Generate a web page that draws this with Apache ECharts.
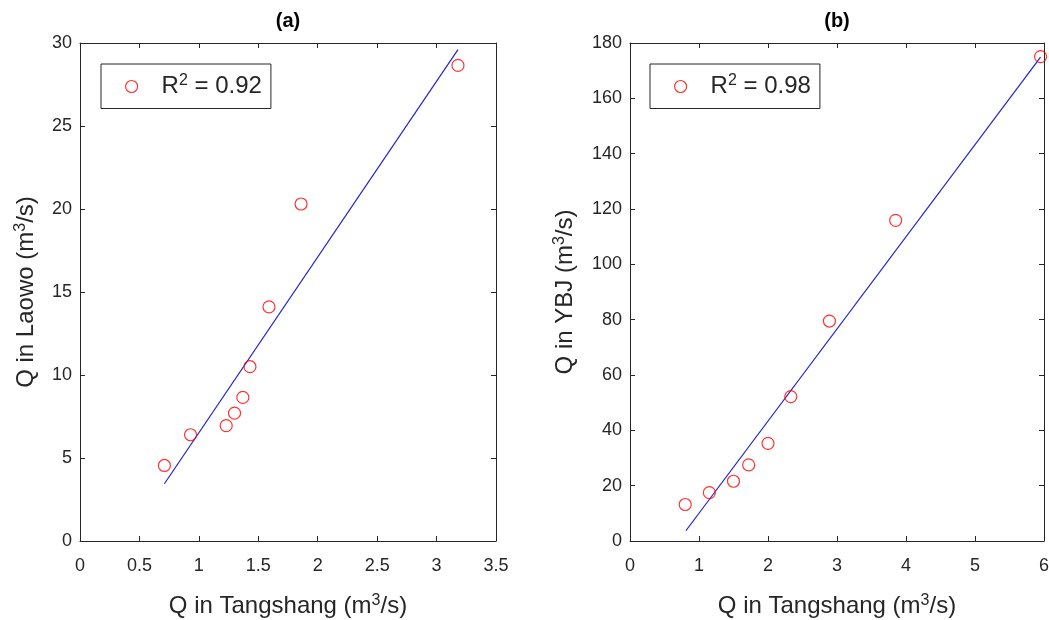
<!DOCTYPE html>
<html><head><meta charset="utf-8">
<script src="https://cdn.jsdelivr.net/npm/echarts@6/dist/echarts.min.js"></script>
<style>html,body{margin:0;padding:0;background:#fff}#c{width:1049px;height:620px}</style>
</head><body><div id="c"></div>
<script>
// ---- data ----
const xA = [0.71, 0.93, 1.23, 1.30, 1.37, 1.43, 1.59, 1.86, 3.18];
const yA = [4.55, 6.4, 6.95, 7.7, 8.65, 10.5, 14.1, 20.3, 28.65];
const fitXA = [0.71, 3.18];
const fitYA = [3.45, 29.6];
const xB = [0.80, 1.15, 1.50, 1.72, 2.00, 2.33, 2.89, 3.85, 5.95];
const yB = [13.2, 17.5, 21.6, 27.5, 35.3, 52.2, 79.5, 115.9, 175.1];
const fitXB = [0.81, 5.95];
const fitYB = [3.7, 174.9];
const r2A = '0.92';
const r2B = '0.98';
const xTicksA = [0, 0.5, 1, 1.5, 2, 2.5, 3, 3.5];
const yTicksA = [0, 5, 10, 15, 20, 25, 30];
const xTicksB = [0, 1, 2, 3, 4, 5, 6];
const yTicksB = [0, 20, 40, 60, 80, 100, 120, 140, 160, 180];
const titles = ['(a)', '(b)'];
const xName = 'Q in Tangshang';
const yNames = ['Q in Laowo', 'Q in YBJ'];

// ---- chart ----
const FONT = '"Liberation Sans", Arial, Helvetica, sans-serif';
const AX = '#262626';
const pairs = (xs, ys) => xs.map((x, i) => [x, ys[i]]);
const unitRich = name => '{n|' + name + ' (m}{s|3}{n|/s)}';
const nameStyle = {
  color: AX, fontFamily: FONT, fontSize: 24,
  rich: { n: { fontSize: 24, fontFamily: FONT, color: AX }, s: { fontSize: 16, fontFamily: FONT, color: AX, padding: [0, 0, 11, 0] } }
};
const tickLabel = m => ({ show: true, color: AX, fontFamily: FONT, fontSize: 18, margin: m });
function axisOf(ticks, grid, pos, main, extra) {
  const a = {
    type: 'value', gridIndex: grid, position: pos,
    min: ticks[0], max: ticks[ticks.length - 1], interval: ticks[1] - ticks[0],
    axisLine: { show: true, onZero: false, lineStyle: { color: AX, width: 1 } },
    axisTick: { show: true, inside: true, length: 5, lineStyle: { color: AX } },
    axisLabel: { show: main, color: AX, fontFamily: FONT, fontSize: 18 },
    splitLine: { show: false }
  };
  return Object.assign(a, extra || {});
}
const grids = [
  { left: 80, top: 43, width: 416, height: 498, containLabel: false, outerBoundsMode: 'none' },
  { left: 630, top: 43, width: 414, height: 498, containLabel: false, outerBoundsMode: 'none' }
];
const xAxes = [
  axisOf(xTicksA, 0, 'bottom', true, { name: unitRich(xName), nameLocation: 'middle', nameGap: 52, nameTextStyle: nameStyle, axisLabel: tickLabel(16) }),
  axisOf(xTicksA, 0, 'top', false),
  axisOf(xTicksB, 1, 'bottom', true, { name: unitRich(xName), nameLocation: 'middle', nameGap: 52, nameTextStyle: nameStyle, axisLabel: tickLabel(16) }),
  axisOf(xTicksB, 1, 'top', false)
];
const yAxes = [
  axisOf(yTicksA, 0, 'left', true, { name: unitRich(yNames[0]), nameLocation: 'middle', nameGap: 40, nameTextStyle: nameStyle, axisLabel: tickLabel(8) }),
  axisOf(yTicksA, 0, 'right', false),
  axisOf(yTicksB, 1, 'left', true, { name: unitRich(yNames[1]), nameLocation: 'middle', nameGap: 51, nameTextStyle: nameStyle, axisLabel: tickLabel(8) }),
  axisOf(yTicksB, 1, 'right', false)
];
const legName = v => 'R^2 = ' + v;
const legendOf = (v, left) => ({
  data: [{ name: legName(v), icon: 'circle' }],
  left: left, top: 64, orient: 'vertical',
  itemWidth: 50, itemHeight: 12,
  padding: [9, 9, 10, 24],
  borderColor: AX, borderWidth: 1, backgroundColor: '#fff',
  selectedMode: false,
  itemStyle: { color: '#fff', borderColor: '#ff0000', borderWidth: 1.2 },
  formatter: () => '{r|R}{s|2}{r| = ' + v + '}',
  textStyle: {
    color: AX, fontFamily: FONT, fontSize: 24,
    rich: { r: { fontSize: 24, fontFamily: FONT, color: AX }, s: { fontSize: 16, fontFamily: FONT, color: AX, padding: [0, 0, 11, 0] } }
  }
});
const scatterOf = (name, xs, ys, xi, yi) => ({
  type: 'scatter', name: name, xAxisIndex: xi, yAxisIndex: yi,
  data: pairs(xs, ys), symbol: 'circle', symbolSize: 12,
  itemStyle: { color: 'rgba(255,255,255,0)', borderColor: '#ff0000', borderWidth: 1.2 },
  z: 3
});
const fitOf = (xs, ys, xi, yi) => ({
  type: 'line', name: 'fit', xAxisIndex: xi, yAxisIndex: yi,
  data: pairs(xs, ys), showSymbol: false, symbol: 'none',
  lineStyle: { color: '#2222cc', width: 1.2 }, z: 2, silent: true
});
const option = {
  animation: false,
  backgroundColor: '#fff',
  grid: grids,
  xAxis: xAxes,
  yAxis: yAxes,
  legend: [legendOf(r2A, 101), legendOf(r2B, 650)],
  graphic: [
    { type: 'text', x: 288, y: 21, style: { text: titles[0], align: 'center', verticalAlign: 'middle', font: 'bold 20px ' + FONT, fill: '#000' } },
    { type: 'text', x: 837, y: 21, style: { text: titles[1], align: 'center', verticalAlign: 'middle', font: 'bold 20px ' + FONT, fill: '#000' } }
  ],
  series: [
    scatterOf(legName(r2A), xA, yA, 0, 0),
    fitOf(fitXA, fitYA, 0, 0),
    scatterOf(legName(r2B), xB, yB, 2, 2),
    fitOf(fitXB, fitYB, 2, 2)
  ]
};
const chart = echarts.init(document.getElementById('c'), null, { renderer: 'canvas' });
chart.setOption(option);
</script>
</body></html>
